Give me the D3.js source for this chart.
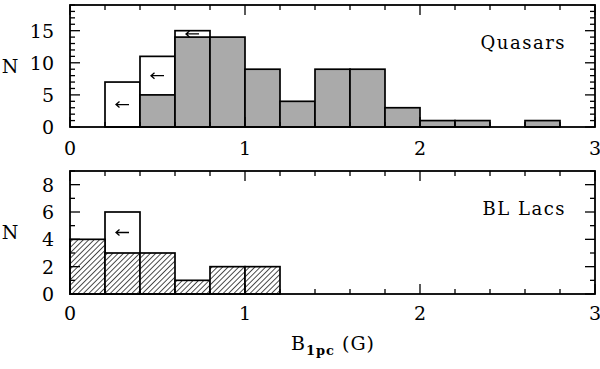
<!DOCTYPE html>
<html lang="en">
<head>
<meta charset="UTF-8">
<title>B1pc histograms</title>
<style>
  body, html { margin: 0; padding: 0; background: #fff; }
  svg { display: block; }
  text { font-family: "DejaVu Serif", serif; fill: #000; }
</style>
</head>
<body>
<svg id="svg" width="600" height="369"></svg>
<script src="https://d3js.org/d3.v7.min.js"></script>
<script>
// ----- DATA -----
// bin lower edges (width 0.2 G)
const binStarts = [0, 0.2, 0.4, 0.6, 0.8, 1.0, 1.2, 1.4, 1.6, 1.8, 2.0, 2.2, 2.4, 2.6, 2.8]
const binWidth = 0.2
// quasars: detections and detections + upper limits
const quasarDet   = [0, 0, 5, 14, 14, 9, 4, 9, 9, 3, 1, 1, 0, 1, 0]
const quasarTotal = [0, 7, 11, 15, 14, 9, 4, 9, 9, 3, 1, 1, 0, 1, 0]
// BL Lacs
const blDet   = [4, 3, 3, 1, 2, 2, 0, 0, 0, 0, 0, 0, 0, 0, 0]
const blTotal = [4, 6, 3, 1, 2, 2, 0, 0, 0, 0, 0, 0, 0, 0, 0]

const xTicksMajor = [0, 1, 2, 3]
const panels = [
  {name: 'Quasars', det: quasarDet, total: quasarTotal, yMax: 19, yMajor: [0, 5, 10, 15], fill: '#aaaaaa', top: 5, bottom: 127, labelY: 155},
  {name: 'BL Lacs', det: blDet, total: blTotal, yMax: 9, yMajor: [0, 2, 4, 6, 8], fill: 'url(#hatch)', top: 171, bottom: 294, labelY: 320}
]

const svg = d3.select('#svg')
const left = 70, right = 595

// hatch pattern
const defs = svg.append('defs')
const pat = defs.append('pattern')
  .attr('id', 'hatch')
  .attr('patternUnits', 'userSpaceOnUse')
  .attr('width', 3.8).attr('height', 3.8)
  .attr('patternTransform', 'rotate(45)')
pat.append('rect').attr('width', 3.8).attr('height', 3.8).attr('fill', '#fff')
pat.append('line')
  .attr('x1', 0).attr('y1', 0).attr('x2', 0).attr('y2', 3.8)
  .attr('stroke', '#000').attr('stroke-width', 1.4)

const xScale = d3.scaleLinear().domain([0, 3]).range([left, right])
const xMinor = d3.range(0, 3.0001, 0.2)

panels.forEach(p => {
  const yScale = d3.scaleLinear().domain([0, p.yMax]).range([p.bottom, p.top])
  const g = svg.append('g')
  const rows = binStarts.map((b, i) => ({x0: b, x1: b + binWidth, det: p.det[i], total: p.total[i]}))

  // total (white) bars
  g.selectAll('rect.tot')
    .data(rows.filter(d => d.total > d.det))
    .enter().append('rect')
    .attr('x', d => xScale(d.x0))
    .attr('y', d => yScale(d.total))
    .attr('width', d => xScale(d.x1) - xScale(d.x0))
    .attr('height', d => yScale(0) - yScale(d.total))
    .attr('fill', '#fff').attr('stroke', '#000').attr('stroke-width', 1.7)

  // detection bars
  g.selectAll('rect.det')
    .data(rows.filter(d => d.det > 0))
    .enter().append('rect')
    .attr('x', d => xScale(d.x0))
    .attr('y', d => yScale(d.det))
    .attr('width', d => xScale(d.x1) - xScale(d.x0))
    .attr('height', d => yScale(0) - yScale(d.det))
    .attr('fill', p.fill).attr('stroke', '#000').attr('stroke-width', 1.7)

  // upper-limit arrows
  rows.filter(d => d.total > d.det).forEach(d => {
    const cx = xScale((d.x0 + d.x1) / 2)
    const cy = yScale((d.total + d.det) / 2)
    g.append('path')
      .attr('d', `M${cx + 6.5},${cy}H${cx - 6.5}M${cx - 3},${cy - 3}L${cx - 6.5},${cy}L${cx - 3},${cy + 3}`)
      .attr('fill', 'none').attr('stroke', '#000').attr('stroke-width', 1.3)
  })

  // frame
  g.append('rect')
    .attr('x', left).attr('y', p.top)
    .attr('width', right - left).attr('height', p.bottom - p.top)
    .attr('fill', 'none').attr('stroke', '#000').attr('stroke-width', 1.8)

  // x ticks (bottom + top, inward)
  const ticks = g.append('g').attr('stroke', '#000').attr('stroke-width', 1.3)
  xMinor.forEach(v => {
    const major = xTicksMajor.some(m => Math.abs(m - v) < 1e-6)
    const len = major ? 10 : 5
    const x = xScale(v)
    ticks.append('line').attr('x1', x).attr('x2', x).attr('y1', p.bottom).attr('y2', p.bottom - len)
    ticks.append('line').attr('x1', x).attr('x2', x).attr('y1', p.top).attr('y2', p.top + len)
  })
  // y ticks (left + right, inward)
  d3.range(0, p.yMax + 1).forEach(v => {
    const major = p.yMajor.includes(v)
    const len = major ? 10 : 5
    const y = yScale(v)
    ticks.append('line').attr('x1', left).attr('x2', left + len).attr('y1', y).attr('y2', y)
    ticks.append('line').attr('x1', right).attr('x2', right - len).attr('y1', y).attr('y2', y)
  })

  // tick labels
  g.selectAll('text.xl')
    .data(xTicksMajor)
    .enter().append('text')
    .attr('x', d => xScale(d))
    .attr('y', p.labelY)
    .attr('text-anchor', 'middle')
    .style('font-size', '19px')
    .text(d => d)
  g.selectAll('text.yl')
    .data(p.yMajor)
    .enter().append('text')
    .attr('x', 54)
    .attr('y', d => yScale(d))
    .attr('dy', '0.36em')
    .attr('text-anchor', 'end')
    .style('font-size', '19px')
    .text(d => d)

  // N label
  g.append('text')
    .attr('x', 10)
    .attr('y', (p.top + p.bottom) / 2)
    .attr('dy', '0.36em')
    .attr('text-anchor', 'middle')
    .style('font-size', '19px')
    .text('N')

  // panel name
  g.append('text')
    .attr('x', 566)
    .attr('y', p.top + 44)
    .attr('text-anchor', 'end')
    .style('font-size', '18px')
    .style('letter-spacing', '1.5px')
    .text(p.name)
})

// x axis label
const xl = svg.append('text')
  .attr('x', 333)
  .attr('y', 350)
  .attr('text-anchor', 'middle')
  .style('font-size', '19px')
  .style('letter-spacing', '1px')
xl.append('tspan').text('B')
xl.append('tspan').attr('dy', 5).style('font-size', '13px').style('font-weight', 'bold').text('1pc')
xl.append('tspan').attr('dy', -5).text(' (G)')
</script>
</body>
</html>
